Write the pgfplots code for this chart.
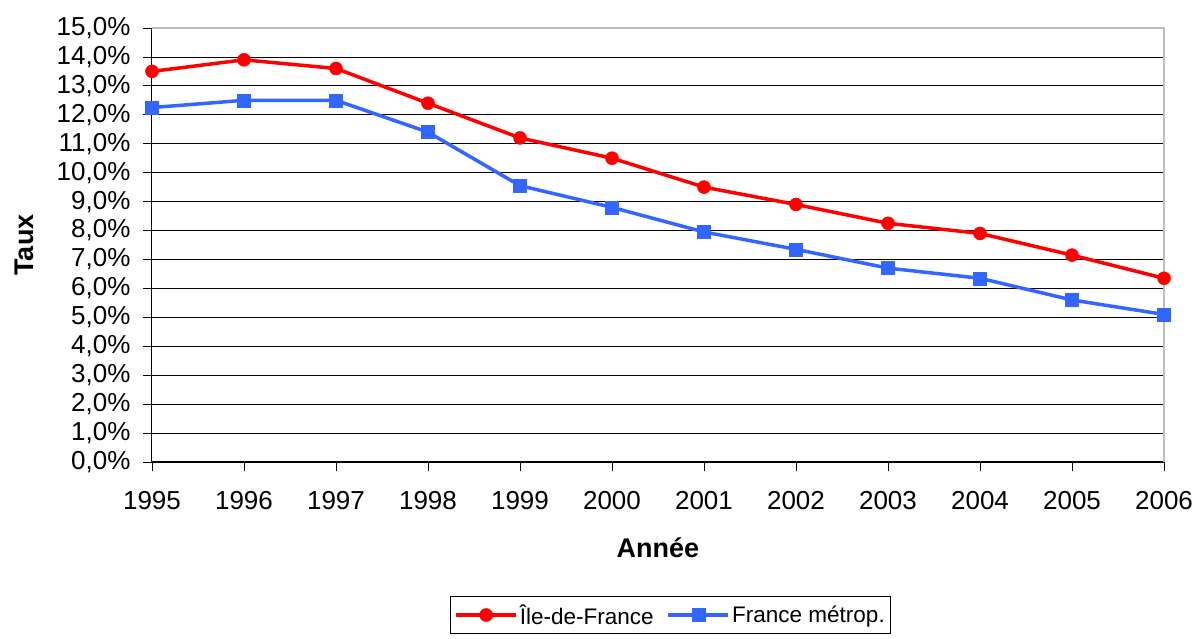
\documentclass[border=0pt]{standalone}
\usepackage{pgfplots}
\pgfplotsset{compat=1.18}
\usepackage{fontspec}
\setmainfont{Liberation Sans}
\definecolor{idfred}{RGB}{255,0,0}
\definecolor{frblue}{RGB}{51,102,255}
\definecolor{borderg}{RGB}{190,190,190}
\begin{document}
\begin{tikzpicture}[x=1pt,y=1pt]
\begin{axis}[
  scale only axis,
  width=1012pt, height=434pt,
  xmin=1995, xmax=2006, ymin=0, ymax=15,
  clip=false,
  axis lines*=left,
  axis line style={black, line width=1pt},
  tick style={black, line width=0.8pt},
  tick align=outside,
  major tick length=9pt,
  ymajorgrids,
  grid style={black, line width=0.8pt},
  xtick={1995,1996,1997,1998,1999,2000,2001,2002,2003,2004,2005,2006},
  xticklabels={1995,1996,1997,1998,1999,2000,2001,2002,2003,2004,2005,2006},
  ytick={0,1,2,3,4,5,6,7,8,9,10,11,12,13,14,15},
  yticklabels={{0,0\%},{1,0\%},{2,0\%},{3,0\%},{4,0\%},{5,0\%},{6,0\%},{7,0\%},{8,0\%},{9,0\%},{10,0\%},{11,0\%},{12,0\%},{13,0\%},{14,0\%},{15,0\%}},
  tick label style={font=\fontsize{26}{31}\selectfont},
  xticklabel style={yshift=-17pt},
  yticklabel style={xshift=-9pt},
  label style={font=\fontsize{27}{32}\selectfont\bfseries},
  xlabel={Année},
  ylabel={Taux},
  xlabel style={at={(axis description cs:0.5,-0.198)}, anchor=center},
  ylabel style={at={(axis description cs:-0.1265,0.5)}, anchor=center},
  legend columns=2,
  legend style={at={(axis description cs:0.2945,-0.3088)}, anchor=north west,
    draw=black, line width=0.8pt, font=\fontsize{22.5}{27}\selectfont,
    inner xsep=4pt, inner ysep=6pt,
    /tikz/every even column/.append style={column sep=11pt}},
  legend image code/.code={
    \draw[mark repeat=2,mark phase=2,#1] plot coordinates {(0pt,0pt) (30pt,0pt) (60pt,0pt)};
  },
]
% plot-area border on the top and right sides
\draw[borderg, line width=1.2pt] (rel axis cs:0,1) -- (rel axis cs:1,1) -- (rel axis cs:1,0);

\addplot[idfred, line width=3.5pt, mark=*, mark size=6.5pt, mark options={solid, fill=idfred, draw=idfred, line width=0.5pt}]
coordinates {
  (1995,13.5) (1996,13.9) (1997,13.6) (1998,12.4) (1999,11.2) (2000,10.5)
  (2001,9.5) (2002,8.9) (2003,8.25) (2004,7.9) (2005,7.15) (2006,6.35)
};
\addlegendentry{Île-de-France}

\addplot[frblue, line width=3.5pt, mark=square*, mark size=6.5pt, mark options={solid, fill=frblue, draw=frblue, line width=0.5pt}]
coordinates {
  (1995,12.25) (1996,12.5) (1997,12.5) (1998,11.4) (1999,9.55) (2000,8.8)
  (2001,7.95) (2002,7.35) (2003,6.7) (2004,6.35) (2005,5.6) (2006,5.1)
};
\addlegendentry{France métrop.}
\end{axis}
\pgfresetboundingbox
\path (-152,-177) rectangle (1047,462);
\end{tikzpicture}
\end{document}
